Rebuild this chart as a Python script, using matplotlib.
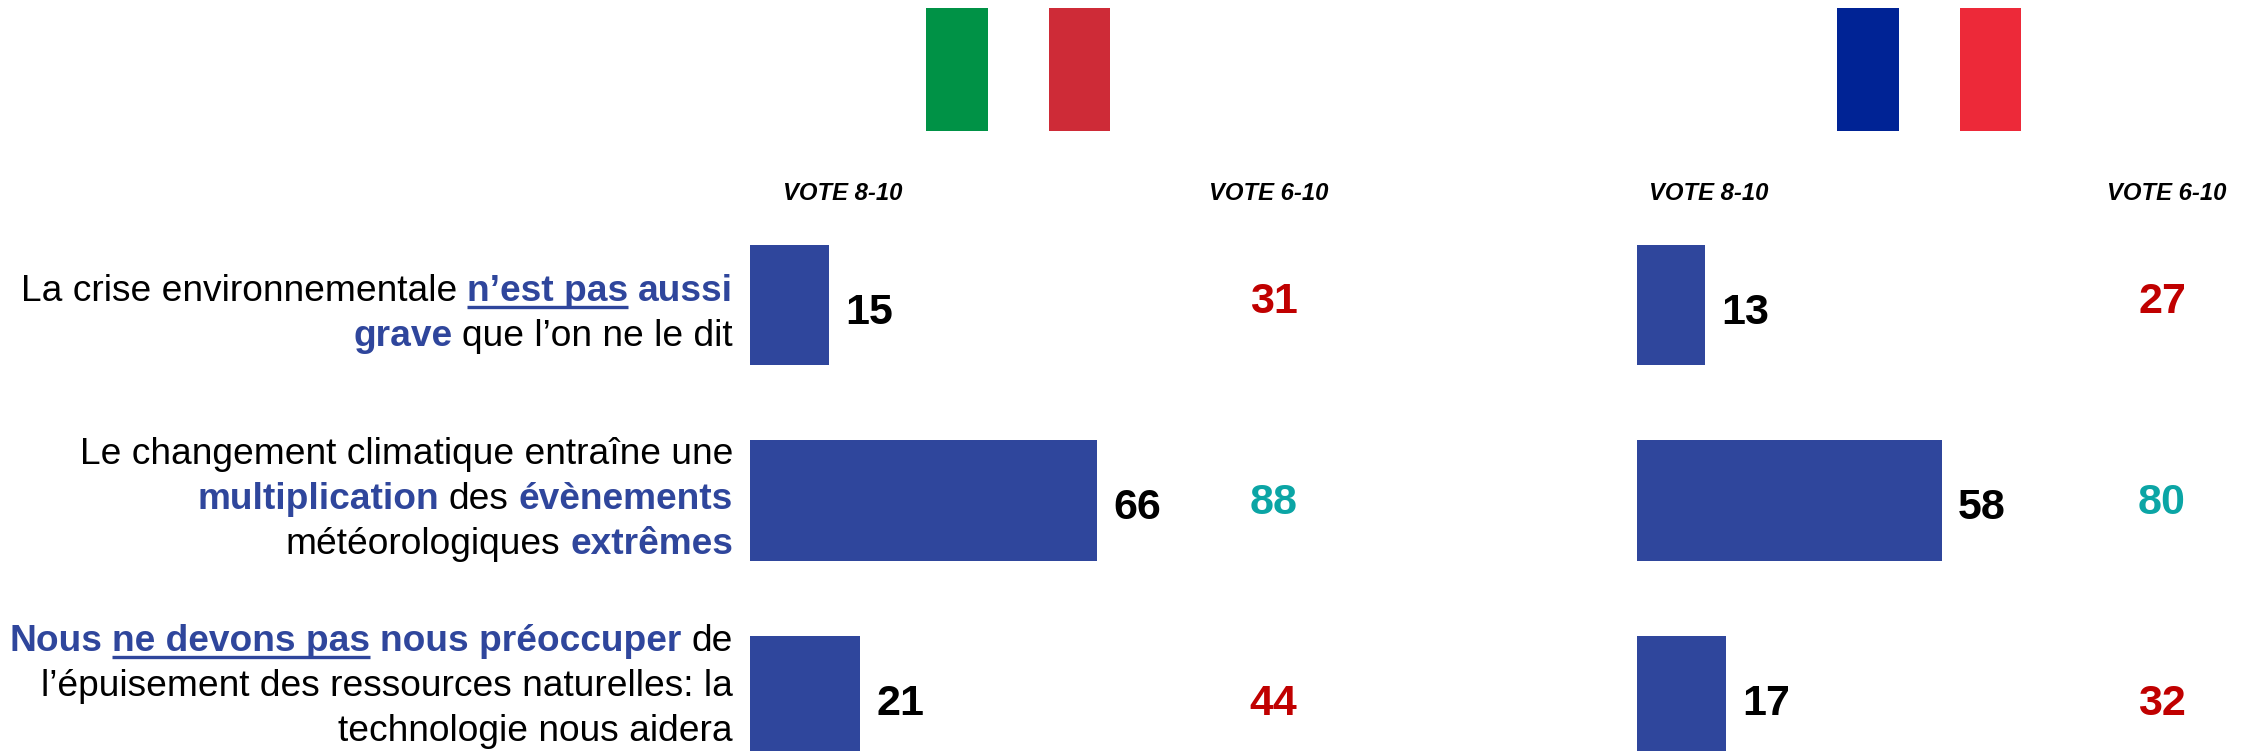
import matplotlib
matplotlib.use("Agg")
import matplotlib.pyplot as plt
from matplotlib.lines import Line2D
from matplotlib.patches import Rectangle

plt.rcParams["font.family"] = ["Liberation Sans", "DejaVu Sans"]

# Values
italy_top = [15, 66, 21]
italy_wide = [31, 88, 44]
france_top = [13, 58, 17]
france_wide = [27, 80, 32]
vote_labels = ["VOTE 8-10", "VOTE 6-10"]

# Wrapped statements: each line is a list of (text, highlighted, underlined)
statements = [
    [
        [("La crise environnementale", False, False), ("n’est pas", True, True), ("aussi", True, False)],
        [("grave", True, False), ("que l’on ne le dit", False, False)],
    ],
    [
        [("Le changement climatique entraîne une", False, False)],
        [("multiplication", True, False), ("des", False, False), ("évènements", True, False)],
        [("météorologiques", False, False), ("extrêmes", True, False)],
    ],
    [
        [("Nous", True, False), ("ne devons pas", True, True), ("nous préoccuper", True, False), ("de", False, False)],
        [("l’épuisement des ressources naturelles: la", False, False)],
        [("technologie nous aidera", False, False)],
    ],
]

BAR_BLUE = "#2F469C"
DARK_RED = "#C00000"
TEAL = "#0BA5A5"
TEXT_PT = 26.75
NUM_PT = 31
VOTE_PT = 17.2

W, H = 2249, 751
fig = plt.figure(figsize=(W / 100, H / 100), dpi=100, facecolor="white")

# Overlay in image pixels for everything that is not a bar
page = fig.add_axes([0, 0, 1, 1])
page.set_xlim(0, W)
page.set_ylim(H, 0)
page.axis("off")


def bar_axes(left_px):
    # 100 units wide, rows 195.6 px apart, first row centred at y=305
    ax = fig.add_axes([left_px / W, 0, 526 / W, 1 - 207.2 / H])
    ax.set_xlim(0, 100)
    ax.set_ylim((H - 305) / 195.6, -0.5)
    ax.axis("off")
    return ax


def draw_panel(left_px, top_values, wide_values, flag_x, flag_colors, vote_x, wide_x):
    ax = bar_axes(left_px)
    rows = range(len(top_values))
    ax.barh(list(rows), top_values, height=0.615, color=BAR_BLUE)
    for i, v in zip(rows, top_values):
        ax.text(v + 7.6, i + 0.04, str(v), ha="center", va="center",
                fontsize=NUM_PT, fontweight="bold", color="black")

    # flag, white middle stripe is just the page
    for x0, x1, c in zip(flag_x[:-1], flag_x[1:], flag_colors):
        page.add_patch(Rectangle((x0, 8), x1 - x0, 123, facecolor=c, edgecolor="none"))

    for x, label in zip(vote_x, vote_labels):
        page.text(x, 193, label, ha="center", va="center", fontsize=VOTE_PT,
                  fontweight="bold", fontstyle="italic", color="black")

    for y, v in zip([302, 503, 704], wide_values):
        page.text(wide_x, y, str(v), ha="center", va="center", fontsize=NUM_PT,
                  fontweight="bold", color=TEAL if v >= 50 else DARK_RED)


draw_panel(750, italy_top, italy_wide, [926, 988, 1049, 1110],
           ["#009246", "white", "#CE2B37"], [843, 1269], 1273.5)
draw_panel(1637, france_top, france_wide, [1837, 1899, 1960, 2021],
           ["#002395", "white", "#ED2939"], [1709, 2167], 2162)

# Right-aligned statements built run by run, from the right edge
renderer = fig.canvas.get_renderer()
RIGHT_EDGE = 733
SPACE = 10
baselines = [[301, 345.5], [464, 509, 554], [651, 696, 741]]
for lines, ys in zip(statements, baselines):
    for runs, y in zip(lines, ys):
        x = RIGHT_EDGE
        for text, strong, underlined in reversed(runs):
            color = BAR_BLUE if strong else "black"
            t = page.text(x, y, text, ha="right", va="baseline", fontsize=TEXT_PT,
                          fontweight="bold" if strong else "normal", color=color)
            width = t.get_window_extent(renderer).width
            if underlined:
                fig.add_artist(Line2D([(x - width) / W, x / W],
                                      [1 - (y + 6) / H, 1 - (y + 6) / H],
                                      color=color, linewidth=2.4, solid_capstyle="butt"))
            x -= width + SPACE

fig.savefig("out.png", dpi=100)
